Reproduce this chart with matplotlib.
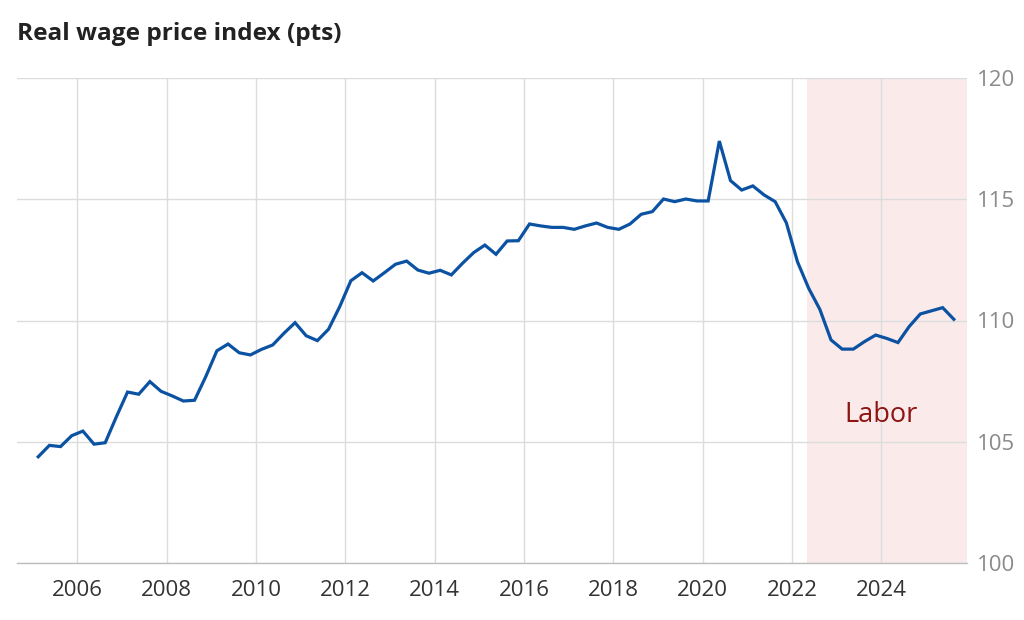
import numpy as np
import matplotlib
matplotlib.use("Agg")
import matplotlib.pyplot as plt

# Quarterly real wage price index, Q1 2005 - Q3 2025
start_year = 2005.125
wpi = [
    104.38, 104.85, 104.80, 105.25, 105.44, 104.90, 104.96, 106.03,
    107.05, 106.96, 107.48, 107.08, 106.89, 106.68, 106.71, 107.68,
    108.75, 109.03, 108.67, 108.58, 108.81, 108.99, 109.47, 109.91,
    109.37, 109.17, 109.64, 110.57, 111.64, 111.97, 111.63, 111.97,
    112.32, 112.45, 112.08, 111.95, 112.07, 111.88, 112.36, 112.80,
    113.11, 112.73, 113.28, 113.29, 113.98, 113.90, 113.84, 113.84,
    113.76, 113.90, 114.02, 113.84, 113.76, 113.98, 114.38, 114.49,
    115.01, 114.90, 115.01, 114.93, 114.93, 117.40, 115.77, 115.38,
    115.55, 115.18, 114.90, 114.03, 112.42, 111.33, 110.46, 109.20,
    108.82, 108.82, 109.13, 109.40, 109.26, 109.09, 109.75, 110.27,
    110.40, 110.53, 110.05,
]
labor_start = 2022.33
x_ticks = [2006, 2008, 2010, 2012, 2014, 2016, 2018, 2020, 2022, 2024]
y_ticks = [100, 105, 110, 115, 120]

years = start_year + 0.25 * np.arange(len(wpi))

plt.rcParams['font.family'] = ['Open Sans', 'DejaVu Sans']

fig = plt.figure(figsize=(10.24, 6.2), dpi=100)
ax = fig.add_axes([17 / 1024, 1 - 563 / 620, (967 - 17) / 1024, (563 - 78) / 620])

xmin, xmax = 2004.65, 2025.92
ax.axvspan(labor_start, xmax, color='#fbeaea', zorder=0, lw=0)
ax.plot(years, wpi, color='#0b52a3', lw=2.3, zorder=3, solid_joinstyle='miter')

ax.text(2024.0, 106.1, 'Labor', color='#8e1414', fontsize=19.5, ha='center', va='center')

ax.set_xlim(xmin, xmax)
ax.set_ylim(100, 120)
ax.set_xticks(x_ticks)
ax.set_xticklabels([str(t) for t in x_ticks])
ax.set_yticks(y_ticks)
ax.yaxis.tick_right()
ax.tick_params(axis='x', length=0, pad=12, labelsize=16, labelcolor='#333333')
ax.tick_params(axis='y', length=0, pad=7, labelsize=16, labelcolor='#8a8a8a')
for lbl in ax.get_yticklabels():
    lbl.set_horizontalalignment('left')

ax.grid(True, color='#dcdcdc', lw=1)
ax.set_axisbelow(True)
for side in ['top', 'left', 'right']:
    ax.spines[side].set_visible(False)
ax.spines['bottom'].set_color('#bdbdbd')
ax.spines['bottom'].set_linewidth(1)

fig.text(17 / 1024, 1 - 40 / 620, 'Real wage price index (pts)', fontsize=17.6,
         fontweight='bold', color='#222222', ha='left', va='baseline')

fig.savefig('out.png', dpi=100, facecolor='white')
